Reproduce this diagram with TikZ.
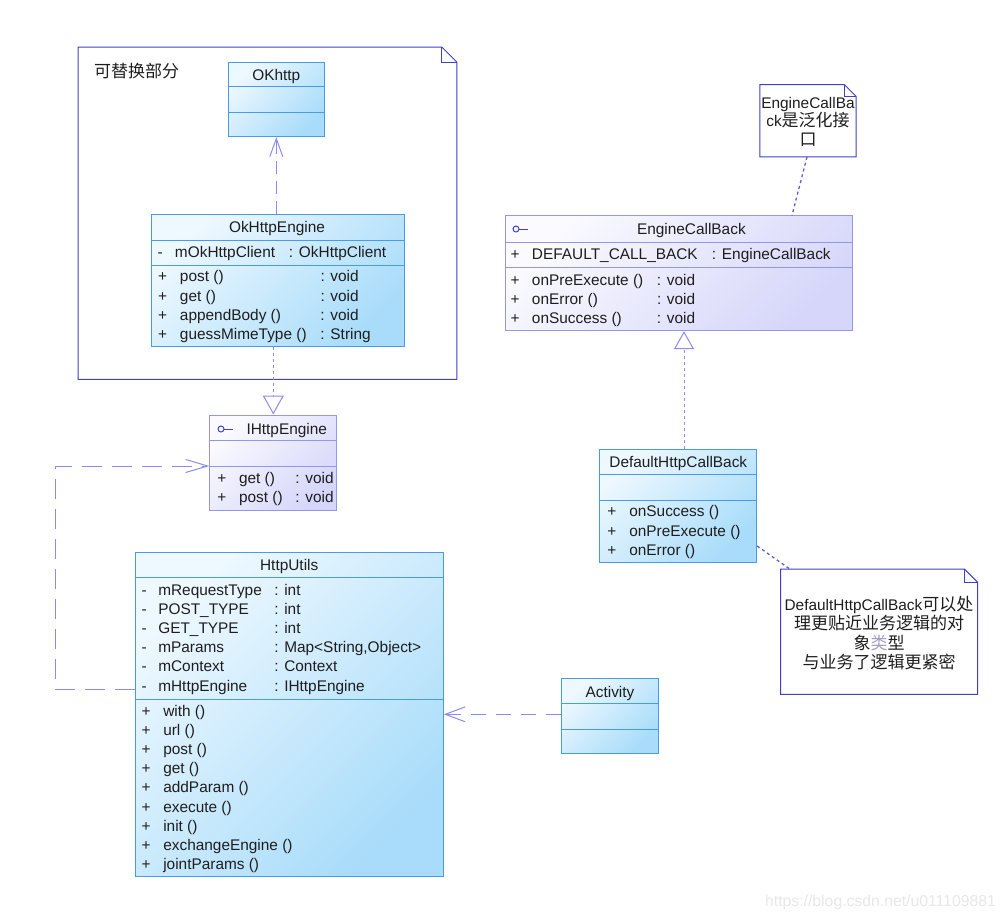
\documentclass[tikz,border=0pt]{standalone}
\usepackage{fontspec}
\setmainfont{Liberation Sans}
\newfontfamily\cjkfont{Noto Sans CJK SC}
\usetikzlibrary{arrows.meta}
\definecolor{bluebd}{RGB}{70,155,235}
\definecolor{blueL}{RGB}{238,248,255}
\definecolor{blueD}{RGB}{168,220,250}
\definecolor{lavbd}{RGB}{150,150,232}
\definecolor{lavL}{RGB}{250,250,255}
\definecolor{lavD}{RGB}{214,214,250}
\definecolor{notebd}{RGB}{64,64,200}
\definecolor{conn}{RGB}{140,140,240}
\definecolor{txt}{RGB}{30,30,30}
\definecolor{catc}{RGB}{160,160,190}
\definecolor{wm}{RGB}{232,232,232}
\newcommand\cj[1]{{\fontsize{17}{18.6}\selectfont\cjkfont #1}}
\newcommand\mem[7]{\node[lbl,anchor=base west] (#1) at (#2) {\makebox[#3][l]{#4}\makebox[#5][l]{#6}#7};}
\tikzset{
  lbl/.style={inner sep=0pt,outer sep=0pt,text=txt,font=\fontsize{15.4}{18.6}\selectfont},
  ttl/.style={lbl,anchor=base},
  bluecls/.style={draw=bluebd,line width=1pt,left color=blueL,right color=blueD,shading angle=45,inner sep=0pt},
  lavcls/.style={draw=lavbd,line width=1pt,left color=lavL,right color=lavD,shading angle=45,inner sep=0pt},
  bsep/.style={draw=bluebd,line width=1pt},
  lsep/.style={draw=lavbd,line width=1pt},
  notebox/.style={inner sep=0pt},
  noteline/.style={draw=notebd,line width=1pt,line join=miter},
  dep/.style={draw=conn,line width=1pt},
  realiz/.style={draw=conn,line width=1pt,dash pattern=on 3pt off 3pt},
  anchorline/.style={draw=notebd!85,line width=1.3pt,dash pattern=on 3pt off 3pt},
  icon/.style={draw=notebd,line width=1pt},
}
\begin{document}
\begin{tikzpicture}[x=1pt,y=-1pt]
\useasboundingbox[fill=white] (0,0) rectangle (1006,919);

% ---------- package note ----------
\node[notebox,minimum width=378.4pt,minimum height=331.7pt] (pkg) at (267.5,213.2) {};
\draw[noteline] (pkg.south west) -- (pkg.north west) -- ([xshift=-15pt]pkg.north east) -- ([yshift=-15pt]pkg.north east) -- (pkg.south east) -- cycle;
\draw[noteline] ([xshift=-15pt]pkg.north east) -- ([xshift=-15pt,yshift=-15pt]pkg.north east) -- ([yshift=-15pt]pkg.north east);
\node[lbl,anchor=base west] (pkglbl) at (94,77) {\cj{可替换部分}};

% ---------- OKhttp ----------
\node[bluecls,minimum width=96pt,minimum height=74.4pt] (okhttp) at (276.3,99.5) {};
\draw[bsep] (okhttp.west |- 0,86.7) -- (okhttp.east |- 0,86.7);
\draw[bsep] (okhttp.west |- 0,112.3) -- (okhttp.east |- 0,112.3);
\node[ttl] (okhttpT) at (276.3,80) {OKhttp};

% ---------- OkHttpEngine ----------
\node[bluecls,minimum width=252.6pt,minimum height=132pt] (okeng) at (278,280) {};
\draw[bsep] (okeng.west |- 0,240) -- (okeng.east |- 0,240);
\draw[bsep] (okeng.west |- 0,265) -- (okeng.east |- 0,265);
\node[ttl] (okengT) at (277,232.5) {OkHttpEngine};
\mem{oe1}{157.5,257.3}{17.5pt}{-}{114pt}{mOkHttpClient}{: OkHttpClient}
\mem{oe2}{158,281.7}{22pt}{+}{140.5pt}{post ()}{: void}
\mem{oe3}{158,301}{22pt}{+}{140.5pt}{get ()}{: void}
\mem{oe4}{158,320.3}{22pt}{+}{140.5pt}{appendBody ()}{: void}
\mem{oe5}{158,339.5}{22pt}{+}{140.5pt}{guessMimeType ()}{: String}

% ---------- IHttpEngine ----------
\node[lavcls,minimum width=126.7pt,minimum height=95pt] (ih) at (273.3,462.5) {};
\draw[lsep] (ih.west |- 0,440.5) -- (ih.east |- 0,440.5);
\draw[lsep] (ih.west |- 0,466) -- (ih.east |- 0,466);
\draw[icon] (221,429) circle (3);
\draw[icon] (224,429) -- (233,429);
\node[lbl,anchor=base west] (ihT) at (246.5,434.5) {IHttpEngine};
\mem{ih1}{217.3,483.3}{21.7pt}{+}{56.5pt}{get ()}{: void}
\mem{ih2}{217.3,502.7}{21.7pt}{+}{56.5pt}{post ()}{: void}

% ---------- EngineCallBack ----------
\node[lavcls,minimum width=347.3pt,minimum height=114.7pt] (ecb) at (678.7,273.3) {};
\draw[lsep] (ecb.west |- 0,242.7) -- (ecb.east |- 0,242.7);
\draw[lsep] (ecb.west |- 0,267.3) -- (ecb.east |- 0,267.3);
\draw[icon] (516,229) circle (3);
\draw[icon] (519,229) -- (528,229);
\node[lbl,anchor=base west] (ecbT) at (637,234.5) {EngineCallBack};
\mem{ec1}{510.6,259.3}{21.4pt}{+}{180pt}{DEFAULT\_CALL\_BACK}{: EngineCallBack}
\mem{ec2}{510.6,285}{21.4pt}{+}{125pt}{onPreExecute ()}{: void}
\mem{ec3}{510.6,304.3}{21.4pt}{+}{125pt}{onError ()}{: void}
\mem{ec4}{510.6,323.5}{21.4pt}{+}{125pt}{onSuccess ()}{: void}

% ---------- DefaultHttpCallBack ----------
\node[bluecls,minimum width=156.7pt,minimum height=113pt] (dcb) at (678.3,505.8) {};
\draw[bsep] (dcb.west |- 0,474.3) -- (dcb.east |- 0,474.3);
\draw[bsep] (dcb.west |- 0,500) -- (dcb.east |- 0,500);
\node[ttl] (dcbT) at (678.3,467) {DefaultHttpCallBack};
\mem{dc1}{607.3,516.7}{22pt}{+}{120pt}{onSuccess ()}{}
\mem{dc2}{607.3,536}{22pt}{+}{120pt}{onPreExecute ()}{}
\mem{dc3}{607.3,555.2}{22pt}{+}{120pt}{onError ()}{}

% ---------- HttpUtils ----------
\node[bluecls,minimum width=308.3pt,minimum height=324pt] (hu) at (289.2,714.7) {};
\draw[bsep] (hu.west |- 0,577.7) -- (hu.east |- 0,577.7);
\draw[bsep] (hu.west |- 0,699.3) -- (hu.east |- 0,699.3);
\node[ttl] (huT) at (289.2,570.3) {HttpUtils};
\mem{ha1}{141.5,595}{16.8pt}{-}{116pt}{mRequestType}{: int}
\mem{ha2}{141.5,614.2}{16.8pt}{-}{116pt}{POST\_TYPE}{: int}
\mem{ha3}{141.5,633.4}{16.8pt}{-}{116pt}{GET\_TYPE}{: int}
\mem{ha4}{141.5,652.6}{16.8pt}{-}{116pt}{mParams}{: Map<String,Object>}
\mem{ha5}{141.5,671.8}{16.8pt}{-}{116pt}{mContext}{: Context}
\mem{ha6}{141.5,691}{16.8pt}{-}{116pt}{mHttpEngine}{: IHttpEngine}
\mem{ho1}{141.6,716}{21.7pt}{+}{150pt}{with ()}{}
\mem{ho2}{141.6,735.2}{21.7pt}{+}{150pt}{url ()}{}
\mem{ho3}{141.6,754.4}{21.7pt}{+}{150pt}{post ()}{}
\mem{ho4}{141.6,773.6}{21.7pt}{+}{150pt}{get ()}{}
\mem{ho5}{141.6,792.8}{21.7pt}{+}{150pt}{addParam ()}{}
\mem{ho6}{141.6,812}{21.7pt}{+}{150pt}{execute ()}{}
\mem{ho7}{141.6,831.2}{21.7pt}{+}{150pt}{init ()}{}
\mem{ho8}{141.6,850.4}{21.7pt}{+}{150pt}{exchangeEngine ()}{}
\mem{ho9}{141.6,869.6}{21.7pt}{+}{150pt}{jointParams ()}{}

% ---------- Activity ----------
\node[bluecls,minimum width=96.6pt,minimum height=75pt] (act) at (610,715.8) {};
\draw[bsep] (act.west |- 0,703.3) -- (act.east |- 0,703.3);
\draw[bsep] (act.west |- 0,729) -- (act.east |- 0,729);
\node[ttl] (actT) at (610,697) {Activity};

% ---------- note 1 ----------
\node[notebox,minimum width=96pt,minimum height=72pt] (n1) at (808,120.7) {};
\draw[noteline,fill=white] (n1.south west) -- (n1.north west) -- ([xshift=-12pt]n1.north east) -- ([yshift=-12pt]n1.north east) -- (n1.south east) -- cycle;
\draw[noteline] ([xshift=-12pt]n1.north east) -- ([xshift=-12pt,yshift=-12pt]n1.north east) -- ([yshift=-12pt]n1.north east);
\node[lbl,align=center,anchor=north] (n1T) at (808,92) {\rule{0pt}{16pt}EngineCallBa\\ck\cj{是泛化接}\\\cj{口}};

% ---------- note 2 ----------
\node[notebox,minimum width=196.6pt,minimum height=124.7pt] (n2) at (879,631.7) {};
\draw[noteline,fill=white] (n2.south west) -- (n2.north west) -- ([xshift=-13pt]n2.north east) -- ([yshift=-13pt]n2.north east) -- (n2.south east) -- cycle;
\draw[noteline] ([xshift=-13pt]n2.north east) -- ([xshift=-13pt,yshift=-13pt]n2.north east) -- ([yshift=-13pt]n2.north east);
\node[lbl,align=center,anchor=north] (n2T) at (879,594) {\rule{0pt}{16pt}DefaultHttpCallBack\cj{可以处}\\[1pt]\cj{理更贴近业务逻辑的对}\\[1pt]\cj{象{\color{catc}类}型}\\[1pt]\cj{与业务了逻辑更紧密}};

% ---------- connectors ----------
\draw[dep,dash pattern=on 13pt off 7pt,-{Straight Barb[length=18pt,width=13pt]}] (okeng.north -| okhttp.south) -- (okhttp.south);
\draw[realiz,-{Triangle[open,fill=white,length=19pt,width=21pt]}] (okeng.south -| ih.north) -- (ih.north);
\coordinate (c1) at (55,689.5);
\coordinate (c2) at (55,466);
\draw[dep,dash pattern=on 20pt off 10pt,-{Straight Barb[length=22pt,width=13pt]}] (hu.west |- c1) -- (c1) -- (c2) -- (ih.west |- c2);
\draw[dep,dash pattern=on 15pt off 10pt,-{Straight Barb[length=20pt,width=15pt]}] (act.west |- 0,714.3) -- (hu.east |- 0,714.3);
\draw[realiz,-{Triangle[open,fill=white,length=18pt,width=20pt]}] (dcb.north -| 684,0) -- (ecb.south -| 684,0);
\draw[anchorline] (n1.south -| 807,0) -- (ecb.north -| 792,0);
\draw[anchorline] (dcb.east |- 0,546) -- (n2.north -| 790,0);

% ---------- watermark ----------
\node[inner sep=0pt,anchor=base west,text=wm,font=\fontsize{15.75}{18}\selectfont] (wmk) at (765,906.5) {https://blog.csdn.net/u011109881};
\end{tikzpicture}
\end{document}
